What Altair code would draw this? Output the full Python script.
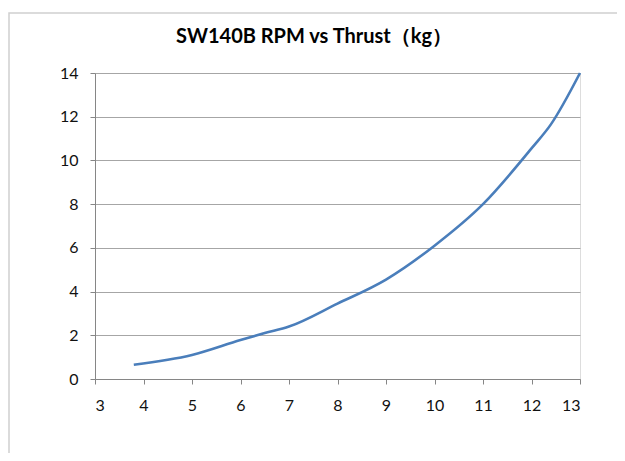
import altair as alt
import pandas as pd

rpm = [3.8, 5, 6, 6.5, 7, 8, 9, 10, 11, 12, 12.4, 13]
thrust = [0.65, 1.1, 1.78, 2.1, 2.4, 3.45, 4.55, 6.1, 8.0, 10.55, 11.65, 14.0]
title_text = "SW140B RPM vs Thrust（kg）"

df = pd.DataFrame({"rpm": rpm, "thrust": thrust})

FONT = "Lato"

frame = alt.Chart(pd.DataFrame({"a": [0]})).mark_rect(
    fillOpacity=0, stroke="#d0d0d0", strokeWidth=1.5
).encode(
    x=alt.value(-86), x2=alt.value(560), y=alt.value(-60), y2=alt.value(382)
)

title = alt.Chart(pd.DataFrame({"t": [title_text]})).mark_text(
    fontSize=20, fontWeight="bold", font=FONT, color="#000000",
    align="center", baseline="middle"
).encode(text="t:N", x=alt.value(219), y=alt.value(-36))

line = alt.Chart(df).mark_line(
    interpolate="monotone", color="#4A7EBB", strokeWidth=2.6
).encode(
    x=alt.X("rpm:Q", scale=alt.Scale(domain=[3, 13], nice=False, zero=False),
            axis=alt.Axis(values=list(range(3, 14)), title=None, grid=False,
                          tickColor="#868686", domainColor="#868686",
                          tickSize=5, labelFontSize=16, labelPadding=13,
                          labelColor="#111111", labelFont=FONT)),
    y=alt.Y("thrust:Q", scale=alt.Scale(domain=[0, 14], nice=False),
            axis=alt.Axis(values=list(range(0, 15, 2)), title=None, grid=True,
                          gridColor="#a6a6a6", tickColor="#868686",
                          domainColor="#868686", tickSize=5, labelFontSize=16,
                          labelPadding=12, labelColor="#111111", labelFont=FONT)),
)

chart = alt.layer(frame, title, line).properties(
    width=485, height=306,
    autosize=alt.AutoSizeParams(type="none"),
    padding={"left": 87, "top": 65, "right": 37, "bottom": 74},
).configure_view(stroke=None).configure(background="white")

chart.save("out.html", embed_options={"renderer": "svg", "actions": False})
